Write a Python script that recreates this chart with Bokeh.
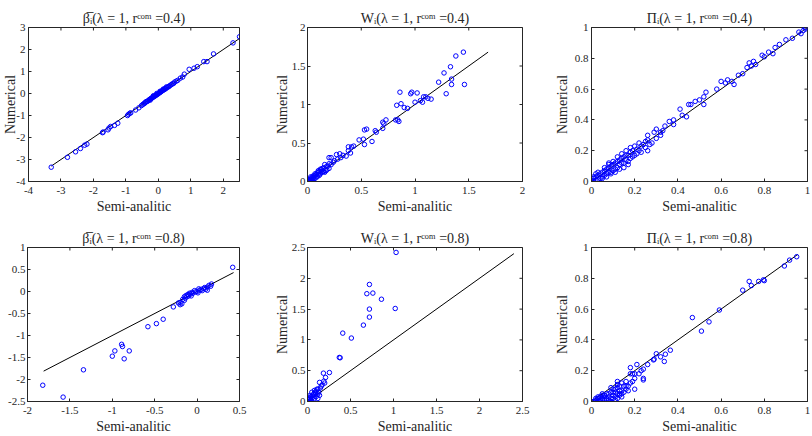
import math
from bokeh.plotting import figure
from bokeh.models import Range1d, FixedTicker
from bokeh.layouts import column, row
from bokeh.embed import file_html
from bokeh.resources import INLINE

# ---------------- data (semi-analytic, numerical) ----------------
beta04_pts = [
    (-3.3, -3.35), (-2.8, -2.9), (-2.55, -2.65), (-2.4, -2.5), (-2.27, -2.35), (-2.2, -2.3),
    (-1.72, -1.78), (-1.7, -1.75), (-1.55, -1.65), (-1.52, -1.57), (-1.47, -1.5), (-1.35, -1.45),
    (-1.25, -1.35), (-0.95, -1.0), (-0.92, -0.95), (-0.88, -0.9), (-0.85, -0.88), (-0.7, -0.75),
    (-0.6, -0.65), (-0.52, -0.55),
    (-0.48, -0.5), (-0.45, -0.47), (-0.42, -0.43), (-0.4, -0.42), (-0.38, -0.37), (-0.35, -0.36),
    (-0.33, -0.35), (-0.3, -0.31), (-0.28, -0.28), (-0.26, -0.27), (-0.24, -0.24), (-0.22, -0.23),
    (-0.2, -0.2), (-0.18, -0.19), (-0.16, -0.15), (-0.14, -0.15), (-0.12, -0.12), (-0.1, -0.11),
    (-0.08, -0.08), (-0.06, -0.07), (-0.04, -0.04), (-0.02, -0.03), (0.0, 0.0), (0.02, 0.01),
    (0.04, 0.05), (0.06, 0.06), (0.08, 0.08), (0.1, 0.1), (0.12, 0.13), (0.14, 0.14),
    (0.16, 0.17), (0.18, 0.18), (0.2, 0.22), (0.22, 0.21), (0.24, 0.25), (0.27, 0.27),
    (0.3, 0.3), (0.33, 0.32), (0.36, 0.37), (0.4, 0.4), (0.43, 0.44), (0.47, 0.46),
    (0.5, 0.52), (0.55, 0.56), (-0.15, -0.1), (0.05, 0.1), (0.15, 0.2), (-0.25, -0.3),
    (0.25, 0.3), (-0.05, 0.0),
    (0.6, 0.6), (0.68, 0.7), (0.75, 0.75), (0.8, 0.88), (0.95, 1.1), (1.1, 1.15), (1.2, 1.22),
    (1.4, 1.45), (1.5, 1.45), (1.7, 1.8), (2.3, 2.3), (2.5, 2.58),
]
beta04_line = [-3.3, 2.5]

w04_pts = [
    (1.45, 1.68), (1.38, 1.63), (1.33, 1.49), (1.27, 1.41), (1.22, 1.29), (1.34, 1.33), (1.34, 1.26),
    (1.46, 1.26), (1.29, 1.14), (1.15, 1.07), (1.12, 1.08), (1.1, 1.1), (1.08, 1.1), (1.07, 1.03),
    (1.02, 1.15), (0.97, 1.16), (0.96, 1.14), (0.86, 1.16), (0.87, 1.01), (0.83, 0.99), (0.9, 0.96),
    (0.93, 0.95), (1.0, 1.03), (1.05, 1.05), (0.85, 0.78), (0.82, 0.8), (0.84, 0.8), (0.73, 0.8),
    (0.7, 0.77), (0.71, 0.75), (0.7, 0.69), (0.63, 0.66), (0.64, 0.64), (0.55, 0.68), (0.53, 0.67),
    (0.52, 0.55), (0.53, 0.48), (0.6, 0.52), (0.48, 0.54), (0.43, 0.46), (0.41, 0.45), (0.38, 0.45),
    (0.38, 0.4), (0.4, 0.37), (0.36, 0.33), (0.3, 0.36), (0.27, 0.35), (0.31, 0.31), (0.28, 0.29),
    (0.22, 0.31), (0.2, 0.31), (0.24, 0.25), (0.22, 0.22), (0.19, 0.2), (0.2, 0.17), (0.17, 0.14),
    (0.16, 0.22), (0.15, 0.18), (0.14, 0.17), (0.12, 0.16), (0.13, 0.12), (0.11, 0.13), (0.1, 0.09),
    (0.09, 0.11), (0.08, 0.09), (0.07, 0.08), (0.06, 0.05), (0.05, 0.07), (0.05, 0.04), (0.04, 0.05),
    (0.03, 0.03), (0.02, 0.03), (0.02, 0.01), (0.01, 0.02), (0.01, 0.0), (0.0, 0.01), (0.03, 0.06),
    (0.07, 0.1), (0.1, 0.14), (0.12, 0.1), (0.16, 0.12), (0.18, 0.15), (0.2, 0.23), (0.18, 0.2),
    (0.25, 0.27), (0.33, 0.34), (0.14, 0.13), (0.06, 0.07), (0.09, 0.06), (0.04, 0.02),
    (0.08, 0.06), (0.11, 0.08), (0.13, 0.16), (0.15, 0.13), (0.07, 0.04), (0.1, 0.12), (0.02, 0.0),
]
w04_line = [0.0, 1.68]

pi04_pts = [
    (0.99, 0.99), (0.98, 0.98), (0.97, 0.96), (0.96, 0.97), (0.99, 1.0), (0.93, 0.93), (0.9, 0.92),
    (0.87, 0.89), (0.85, 0.87), (0.82, 0.84), (0.79, 0.82), (0.84, 0.83), (0.8, 0.81), (0.75, 0.78),
    (0.73, 0.77), (0.74, 0.75), (0.72, 0.74), (0.7, 0.7), (0.76, 0.76), (0.68, 0.69), (0.62, 0.64),
    (0.63, 0.66), (0.6, 0.65), (0.65, 0.65), (0.66, 0.63), (0.58, 0.6), (0.53, 0.58), (0.5, 0.53),
    (0.52, 0.55), (0.48, 0.52), (0.52, 0.5), (0.46, 0.5), (0.45, 0.5), (0.41, 0.47), (0.42, 0.43),
    (0.44, 0.42), (0.38, 0.4), (0.36, 0.39), (0.38, 0.37), (0.34, 0.36), (0.33, 0.33), (0.32, 0.32),
    (0.3, 0.34), (0.29, 0.32), (0.32, 0.3), (0.26, 0.3), (0.26, 0.27), (0.25, 0.26), (0.28, 0.25),
    (0.3, 0.28), (0.22, 0.25), (0.2, 0.23), (0.25, 0.22), (0.26, 0.2), (0.19, 0.2), (0.18, 0.19),
    (0.17, 0.17), (0.16, 0.17), (0.2, 0.17), (0.18, 0.15), (0.15, 0.16), (0.14, 0.15), (0.13, 0.14),
    (0.12, 0.13), (0.15, 0.12), (0.11, 0.12), (0.1, 0.11), (0.12, 0.09), (0.09, 0.1), (0.08, 0.09),
    (0.11, 0.08), (0.07, 0.08), (0.06, 0.07), (0.08, 0.06), (0.05, 0.06), (0.04, 0.05), (0.06, 0.04),
    (0.03, 0.04), (0.02, 0.03), (0.04, 0.02), (0.01, 0.02), (0.02, 0.01), (0.0, 0.01), (0.01, 0.0),
    (0.13, 0.11), (0.1, 0.07), (0.07, 0.05), (0.14, 0.12), (0.16, 0.14), (0.22, 0.2), (0.23, 0.23),
    (0.21, 0.21), (0.24, 0.24), (0.17, 0.13), (0.19, 0.16), (0.09, 0.06), (0.03, 0.01), (0.05, 0.03),
    (0.08, 0.11),
    (0.05, 0.02), (0.07, 0.03), (0.09, 0.05), (0.11, 0.06), (0.13, 0.08), (0.15, 0.09), (0.17, 0.11),
    (0.06, 0.09), (0.08, 0.12), (0.1, 0.13), (0.12, 0.16), (0.14, 0.18), (0.16, 0.2), (0.18, 0.22),
    (0.21, 0.18), (0.23, 0.19), (0.27, 0.24), (0.02, 0.05), (0.03, 0.06), (0.01, 0.03),
]
pi04_line = [0.0, 1.0]

beta08_pts = [
    (0.42, 0.55), (0.17, 0.17), (0.16, 0.12), (0.12, 0.1), (0.1, 0.05), (0.12, 0.03), (0.08, 0.07),
    (0.05, 0.05), (0.03, 0.03), (0.02, 0.06), (0.0, 0.0), (-0.02, -0.01), (-0.03, 0.02), (-0.05, -0.04),
    (-0.06, -0.02), (-0.08, -0.06), (-0.09, -0.04), (-0.1, -0.1), (-0.11, -0.07), (-0.12, -0.12),
    (-0.13, -0.09), (-0.14, -0.15), (-0.15, -0.12), (-0.15, -0.2), (-0.17, -0.18), (-0.18, -0.28),
    (-0.2, -0.25), (-0.2, -0.3), (-0.22, -0.26), (-0.28, -0.35), (0.06, 0.02), (0.09, 0.09),
    (0.14, 0.14), (0.01, -0.03), (-0.07, -0.1),
    (-0.4, -0.63), (-0.48, -0.73), (-0.58, -0.8), (-0.8, -1.35), (-0.86, -1.53), (-0.89, -1.2),
    (-0.88, -1.25), (-0.97, -1.35), (-1.0, -1.47), (-1.34, -1.78), (-1.82, -2.13), (-1.58, -2.4),
]
beta08_line = [-1.81, 0.43]

w08_pts = [
    (1.03, 2.42), (0.72, 1.9), (0.69, 1.75), (0.76, 1.76), (0.86, 1.66), (1.02, 1.51), (0.72, 1.5),
    (0.72, 1.37), (0.65, 1.24), (0.41, 1.11), (0.51, 1.03), (0.37, 0.715), (0.38, 0.71), (0.255, 0.47),
    (0.185, 0.46), (0.21, 0.39), (0.19, 0.33), (0.2, 0.3), (0.14, 0.31), (0.17, 0.27), (0.15, 0.22),
    (0.12, 0.2), (0.1, 0.17), (0.09, 0.15), (0.08, 0.18), (0.05, 0.15), (0.07, 0.12), (0.06, 0.1),
    (0.04, 0.08), (0.03, 0.05), (0.02, 0.03), (0.01, 0.02), (0.0, 0.0), (0.02, 0.0), (0.05, 0.05),
    (0.1, 0.08), (0.12, 0.12), (0.14, 0.1), (0.13, 0.15), (0.11, 0.2), (0.09, 0.13), (0.06, 0.07),
    (0.04, 0.02), (0.08, 0.05), (0.16, 0.25), (0.12, 0.05), (0.02, 0.06), (0.03, 0.1),
]
w08_line = [0.0, 2.4]

pi08_pts = [
    (0.95, 0.94), (0.917, 0.918), (0.893, 0.88), (0.8, 0.785), (0.796, 0.79), (0.774, 0.78),
    (0.74, 0.753), (0.73, 0.78), (0.7, 0.723), (0.592, 0.594), (0.544, 0.517), (0.509, 0.457),
    (0.467, 0.545), (0.365, 0.333), (0.342, 0.307), (0.337, 0.26), (0.3, 0.31), (0.32, 0.29),
    (0.29, 0.275), (0.287, 0.27), (0.26, 0.24), (0.24, 0.21), (0.23, 0.2), (0.21, 0.24), (0.22, 0.18),
    (0.24, 0.14), (0.24, 0.15), (0.2, 0.18), (0.18, 0.22), (0.18, 0.18), (0.19, 0.18), (0.2, 0.08),
    (0.17, 0.1), (0.17, 0.07), (0.16, 0.13), (0.15, 0.1), (0.14, 0.12), (0.13, 0.1), (0.12, 0.13),
    (0.13, 0.07), (0.12, 0.05), (0.11, 0.08), (0.1, 0.04), (0.09, 0.06), (0.08, 0.03), (0.07, 0.05),
    (0.06, 0.03), (0.05, 0.02), (0.04, 0.01), (0.03, 0.02), (0.02, 0.01), (0.01, 0.0), (0.0, 0.0),
    (0.1, 0.08), (0.05, 0.05), (0.06, 0.01), (0.08, 0.01), (0.1, 0.02), (0.12, 0.02), (0.14, 0.03),
    (0.09, 0.09), (0.11, 0.06), (0.13, 0.04), (0.15, 0.06), (0.16, 0.08), (0.18, 0.12), (0.2, 0.15),
    (0.04, 0.03), (0.03, 0.0), (0.07, 0.02), (0.19, 0.13),
    (0.02, 0.0), (0.04, 0.0), (0.05, 0.01), (0.07, 0.01), (0.09, 0.02), (0.11, 0.03), (0.13, 0.05),
    (0.14, 0.07), (0.12, 0.09), (0.1, 0.06), (0.08, 0.05), (0.06, 0.04), (0.09, 0.0), (0.11, 0.01),
    (0.14, 0.05), (0.16, 0.1), (0.12, 0.11), (0.05, 0.04), (0.03, 0.03), (0.02, 0.02),
]
pi08_line = [0.0, 0.955]

# ---------------- titles and ticks ----------------
titles = [
    "β̅ᵢ(λ = 1, rᶜᵒᵐ =0.4)", "Wᵢ(λ = 1, rᶜᵒᵐ =0.4)", "Πᵢ(λ = 1, rᶜᵒᵐ =0.4)",
    "β̅ᵢ(λ = 1, rᶜᵒᵐ =0.8)", "Wᵢ(λ = 1, rᶜᵒᵐ =0.8)", "Πᵢ(λ = 1, rᶜᵒᵐ =0.8)",
]
x_label = "Semi-analitic"
y_label = "Numerical"

beta04_xticks = [-4, -3, -2, -1, 0, 1, 2]
beta04_xlabels = ["-4", "-3", "-2", "-1", "0", "1", "2"]
beta04_yticks = [-4, -3, -2, -1, 0, 1, 2, 3]
beta04_ylabels = ["-4", "-3", "-2", "-1", "0", "1", "2", "3"]
w04_ticks = [0, 0.5, 1, 1.5, 2]
w04_labels = ["0", "0.5", "1", "1.5", "2"]
unit_ticks = [0, 0.2, 0.4, 0.6, 0.8, 1]
unit_labels = ["0", "0.2", "0.4", "0.6", "0.8", "1"]
beta08_xticks = [-2, -1.5, -1, -0.5, 0, 0.5]
beta08_xlabels = ["-2", "-1.5", "-1", "-0.5", "0", "0.5"]
beta08_yticks = [-2.5, -2, -1.5, -1, -0.5, 0, 0.5, 1]
beta08_ylabels = ["-2.5", "-2", "-1.5", "-1", "-0.5", "0", "0.5", "1"]
w08_ticks = [0, 0.5, 1, 1.5, 2, 2.5]
w08_labels = ["0", "0.5", "1", "1.5", "2", "2.5"]

FONT = "'Liberation Serif', 'Times New Roman', serif"
AX = "#262626"


def style_axis(ax, ticks, labels, standoff):
    ax.ticker = FixedTicker(ticks=ticks)
    ax.major_label_overrides = {float(t): l for t, l in zip(ticks, labels)}
    ax.major_tick_in = 3
    ax.major_tick_out = 0
    ax.minor_tick_in = 0
    ax.minor_tick_out = 0
    ax.axis_line_color = AX
    ax.major_tick_line_color = AX
    ax.major_label_text_font = FONT
    ax.major_label_text_color = AX
    ax.major_label_text_font_size = "11px"
    ax.major_label_standoff = standoff
    ax.axis_label_text_font = FONT
    ax.axis_label_text_font_style = "normal"
    ax.axis_label_text_font_size = "14px"
    ax.axis_label_text_color = AX


def make(pts, line, title, xr, yr, xt, xl, yt, yl, w, h, borders, ylab, ylab_standoff, ytick_standoff):
    p = figure(width=w, height=h, x_range=Range1d(*xr), y_range=Range1d(*yr),
               output_backend="svg", toolbar_location=None,
               min_border_left=borders[0], min_border_right=borders[1],
               min_border_top=borders[2], min_border_bottom=borders[3])
    p.xgrid.visible = False
    p.ygrid.visible = False
    p.outline_line_color = AX
    p.background_fill_color = "white"
    p.border_fill_color = "white"
    p.title.text = title
    p.title.text_font = FONT
    p.title.text_font_size = "14px"
    p.title.text_font_style = "normal"
    p.title.text_color = AX
    p.title.align = "center"
    p.title.standoff = 4

    xs = [a for a, b in pts]
    ys = [b for a, b in pts]
    p.line(line, line, line_color="black", line_width=1)
    p.scatter(xs, ys, marker="circle", size=4.5, fill_color=None,
              line_color="#0000ff", line_width=1)

    # mirrored inward ticks on the top and right edges of the box
    p.scatter(xt, [yr[1]] * len(xt), marker="dash", angle=math.pi / 2, size=6,
              line_color=AX, line_width=1)
    p.scatter([xr[1]] * len(yt), yt, marker="dash", size=6,
              line_color=AX, line_width=1)

    style_axis(p.xaxis[0], xt, xl, 5)
    p.xaxis[0].axis_label = x_label
    p.xaxis[0].axis_label_standoff = 2
    style_axis(p.yaxis[0], yt, yl, ytick_standoff)
    if ylab:
        p.yaxis[0].axis_label = y_label
        p.yaxis[0].axis_label_standoff = ylab_standoff
    return p


p1 = make(beta04_pts, beta04_line, titles[0], (-4, 2.5), (-4, 3),
          beta04_xticks, beta04_xlabels, beta04_yticks, beta04_ylabels,
          270, 218, (27, 31, 26, 36), True, -5, 3)
p2 = make(w04_pts, w04_line, titles[1], (0, 2), (0, 2),
          w04_ticks, w04_labels, w04_ticks, w04_labels,
          270, 218, (37, 18, 27, 37), True, -1, 2)
p3 = make(pi04_pts, pi04_line, titles[2], (0, 1), (0, 1),
          unit_ticks, unit_labels, unit_ticks, unit_labels,
          272, 218, (51, 5, 26, 37), True, 2, 3)
p4 = make(beta08_pts, beta08_line, titles[3], (-2, 0.5), (-2.5, 1),
          beta08_xticks, beta08_xlabels, beta08_yticks, beta08_ylabels,
          270, 218, (27, 31, 29, 34), False, 0, 2)
p5 = make(w08_pts, w08_line, titles[4], (0, 2.5), (0, 2.5),
          w08_ticks, w08_labels, w08_ticks, w08_labels,
          270, 218, (37, 18, 29, 34), True, -1, 2)
p6 = make(pi08_pts, pi08_line, titles[5], (0, 1), (0, 1),
          unit_ticks, unit_labels, unit_ticks, unit_labels,
          272, 218, (51, 5, 29, 34), True, 2, 3)

layout = column(row(p1, p2, p3), row(p4, p5, p6))
open("out.html", "w").write(file_html(layout, INLINE))
